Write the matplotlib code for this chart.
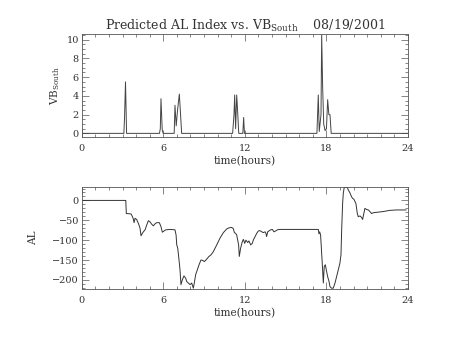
import matplotlib
matplotlib.use("Agg")
import matplotlib.pyplot as plt
from matplotlib.ticker import MultipleLocator

# ---- data ----
vb_time = [0, 3.10, 3.15, 3.22, 3.30, 5.72, 5.78, 5.83, 5.92, 5.99,
           6.80, 6.86, 6.95, 7.05, 7.18, 7.25, 7.35,
           11.10, 11.20, 11.25, 11.32, 11.40, 11.48, 11.55, 11.85, 11.91, 11.97,
           17.30, 17.35, 17.40, 17.47, 17.60, 17.65, 17.72, 17.80, 17.90, 18.00,
           18.09, 18.18, 18.26, 18.35, 24]
vb_south = [0, 0, 1.7, 5.5, 0, 0, 0.5, 3.7, 0.4, 0,
            0, 3.0, 0.8, 2.5, 4.2, 2.5, 0,
            0, 2.0, 4.1, 0.5, 4.1, 2.0, 0, 0, 1.7, 0,
            0, 2.0, 4.1, 0.2, 2.0, 10.5, 5.0, 1.0, 0.3, 0.5,
            3.6, 2.0, 2.0, 0, 0]

al_time = [0, 3.24, 3.28, 3.63, 3.73, 3.80, 3.85, 3.92, 4.04, 4.17, 4.29, 4.36,
           4.49, 4.66, 4.78, 4.90, 5.02, 5.15, 5.27, 5.39, 5.51, 5.71, 5.83, 5.93,
           6.05, 6.18, 6.50, 6.86, 6.94, 6.99, 7.06, 7.13, 7.23, 7.30, 7.40, 7.52,
           7.65, 7.72, 7.84, 7.97, 8.09, 8.21, 8.28, 8.38, 8.50, 8.63, 8.77, 8.90,
           9.02, 9.14, 9.24, 9.36, 9.51, 9.68, 9.93, 10.17, 10.42, 10.66, 10.83,
           11.03, 11.15, 11.23, 11.32, 11.40, 11.54, 11.59, 11.69, 11.81, 11.89,
           11.99, 12.08, 12.21, 12.30, 12.43, 12.55, 12.62, 12.75, 12.87, 12.99,
           13.11, 13.24, 13.36, 13.48, 13.55, 13.60, 13.68, 13.77, 13.90, 14.02,
           14.14, 14.26, 14.39, 14.58, 17.40, 17.45, 17.50, 17.57, 17.65, 17.72,
           17.77, 17.84, 17.92, 17.99, 18.09, 18.19, 18.26, 18.38, 18.50, 18.63,
           18.75, 18.87, 18.99, 19.07, 19.12, 19.19, 19.24, 19.31, 19.53, 19.61,
           19.73, 19.85, 19.93, 20.02, 20.10, 20.17, 20.27, 20.34, 20.47, 20.59,
           20.66, 20.76, 20.83, 20.96, 21.08, 21.20, 21.32, 21.45, 21.69, 22.18,
           22.67, 23.16, 23.85]
al_index = [0, 0, -33, -34, -41, -47, -56, -45, -48, -58, -70, -89,
            -81, -74, -62, -51, -54, -60, -64, -59, -56, -56, -66, -80,
            -77, -74, -73, -74, -87, -112, -120, -141, -175, -212, -200, -190,
            -196, -204, -208, -212, -208, -221, -208, -187, -175, -162, -150, -151,
            -154, -150, -146, -141, -137, -129, -112, -95, -81, -72, -69,
            -68, -71, -81, -83, -87, -112, -141, -120, -104, -98,
            -108, -100, -106, -102, -112, -108, -100, -91, -83, -77,
            -76, -79, -81, -79, -83, -91, -79, -77, -74, -73,
            -79, -77, -74, -73, -73, -84, -79, -87, -133, -175,
            -208, -166, -162, -175, -192, -204, -217, -221, -221, -208,
            -192, -175, -158, -137, -74, -8, 18, 33, 33, 26,
            19, 9, 5, 3, -3, -8, -33, -41, -39, -43,
            -48, -31, -20, -23, -24, -28, -33, -31, -30, -28,
            -25, -24, -24]

x_ticks = [0, 6, 12, 18, 24]
title = "Predicted AL Index vs. VB$_{\\mathregular{South}}$    08/19/2001"

plt.rcParams['font.family'] = ['DejaVu Serif']
plt.rcParams['mathtext.fontset'] = 'dejavuserif'

txt = '#333333'
fig = plt.figure(figsize=(4.54, 3.41), dpi=100)
ax1 = fig.add_axes([0.180, 0.599, 0.7187, 0.301])
ax2 = fig.add_axes([0.180, 0.1525, 0.7187, 0.2982])

ax1.plot(vb_time, vb_south, color='#444444', lw=0.7)
ax2.plot(al_time, al_index, color='#333333', lw=0.7)

ax1.set_xlim(0, 24)
ax1.set_ylim(-0.36, 10.6)
ax2.set_xlim(0, 24)
ax2.set_ylim(-223, 33)

for ax in (ax1, ax2):
    ax.set_xticks(x_ticks)
    ax.xaxis.set_minor_locator(MultipleLocator(1))
    ax.tick_params(which='both', direction='in', top=True, right=True,
                   labelsize=7, color='#555555', width=0.5, labelcolor=txt)
    ax.tick_params(axis='x', which='major', pad=5)
    ax.tick_params(axis='y', which='major', pad=2)
    ax.tick_params(which='major', length=5)
    ax.tick_params(which='minor', length=2.5)
    for s in ax.spines.values():
        s.set_linewidth(0.6)
        s.set_color('#555555')
    ax.set_xlabel('time(hours)', fontsize=7.6, labelpad=2, color=txt)

ax1.yaxis.set_major_locator(MultipleLocator(2))
ax1.yaxis.set_minor_locator(MultipleLocator(0.5))
ax2.yaxis.set_major_locator(MultipleLocator(50))
ax2.yaxis.set_minor_locator(MultipleLocator(10))

ax1.set_ylabel('VB$_{\\mathregular{South}}$', fontsize=7.6, labelpad=3, color=txt)
ax2.set_ylabel('AL', fontsize=7.6, labelpad=10, color=txt)
ax1.set_title(title, fontsize=9, pad=3, color=txt)

fig.savefig('out.png', dpi=100)
